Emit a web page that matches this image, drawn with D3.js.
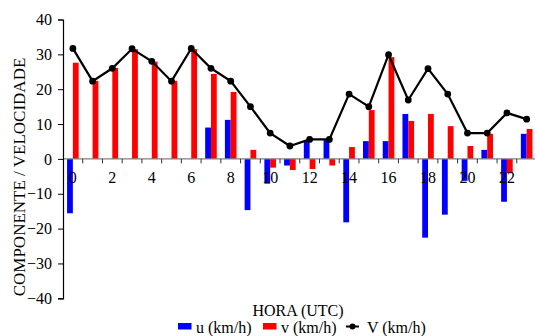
<!DOCTYPE html>
<html>
<head>
<meta charset="utf-8">
<script src="https://cdn.jsdelivr.net/npm/d3@7"></script>
<style>
  html, body { margin: 0; padding: 0; background: #fff; }
  svg { display: block; }
</style>
</head>
<body>
<svg id="chart" width="535" height="336"></svg>
<script>
// Hourly wind components and speed (km/h)
const hours = d3.range(0, 24);
const uValues = [-15.6, 0, 0, 0, 0, 0, 0, 9.0, 11.2, -14.7, -7.1, -1.9, 5.1, 5.4, -18.2, 5.1, 5.1, 12.9, -22.6, -16.0, -6.3, 2.6, -12.3, 7.2];
const vValues = [27.6, 22.4, 26.1, 31.5, 27.9, 22.4, 31.5, 24.4, 19.2, 2.6, -2.5, -3.2, -2.9, -1.9, 3.4, 14.0, 29.2, 10.9, 12.9, 9.4, 3.7, 7.2, -4.1, 8.6];
const speedValues = [31.7, 22.3, 26.0, 31.6, 28.0, 22.3, 31.7, 26.0, 22.3, 15.0, 7.4, 3.7, 5.6, 5.6, 18.6, 15.0, 29.9, 16.9, 25.9, 18.6, 7.4, 7.4, 13.2, 11.4];
const yTicks = [-40, -30, -20, -10, 0, 10, 20, 30, 40];
const xTickLabels = [0, 2, 4, 6, 8, 10, 12, 14, 16, 18, 20, 22];
const seriesNames = ["u (km/h)", "v (km/h)", "V (km/h)"];

const FONT = "Tinos, 'Liberation Serif', 'Times New Roman', Times, 'Noto Serif', 'DejaVu Serif', FreeSerif, serif";
const svg = d3.select("#chart").style("font-family", FONT);
const left = 63, plotTop = 19.5, plotBottom = 298.3;
const slot = 19.73;

const x = d3.scaleBand().domain(hours).range([left, left + slot * 24]).padding(0);
const sub = d3.scaleBand().domain(["u", "v"]).range([-5.8, 5.8]);
const y = d3.scaleLinear().domain([-40, 40]).range([plotBottom, plotTop]);
const cx = h => x(h) + x.bandwidth() / 2;

// bars
const barData = hours.flatMap(h => [
  { h, key: "u", val: uValues[h], color: "#0000FF" },
  { h, key: "v", val: vValues[h], color: "#FF0000" }
]);
svg.append("g").selectAll("rect").data(barData).join("rect")
  .attr("x", d => cx(d.h) + sub(d.key))
  .attr("width", sub.bandwidth())
  .attr("y", d => y(Math.max(0, d.val)))
  .attr("height", d => Math.abs(y(d.val) - y(0)))
  .attr("fill", d => d.color);

// zero line with category ticks
const xAxis = svg.append("g");
xAxis.append("line")
  .attr("x1", left).attr("x2", left + slot * 24)
  .attr("y1", y(0)).attr("y2", y(0))
  .attr("stroke", "#808080").attr("stroke-width", 1.3);
xAxis.selectAll("line.tk").data(d3.range(1, 25)).join("line")
  .attr("class", "tk")
  .attr("x1", k => left + slot * k).attr("x2", k => left + slot * k)
  .attr("y1", y(0)).attr("y2", y(0) + 4.5)
  .attr("stroke", "#333").attr("stroke-width", 1);
xAxis.selectAll("text").data(xTickLabels).join("text")
  .attr("x", h => cx(h)).attr("y", 182.5)
  .attr("text-anchor", "middle")
  .attr("font-size", 16)
  .text(d => d);

// vertical axis
const yAxis = d3.axisLeft(y).tickValues(yTicks).tickSize(5).tickPadding(6).tickFormat(d3.format("d"));
const yg = svg.append("g").attr("transform", `translate(${left},0)`).call(yAxis)
  .attr("font-family", FONT).attr("font-size", 16);
yg.select(".domain").attr("stroke", "#000").attr("stroke-width", 1.2);
yg.selectAll(".tick line").attr("stroke", "#000");
yg.selectAll(".tick text").attr("fill", "#000");

// speed line
const line = d3.line().x((d, i) => cx(hours[i])).y(d => y(d));
svg.append("path").datum(speedValues)
  .attr("d", line).attr("fill", "none")
  .attr("stroke", "#000").attr("stroke-width", 2.2);
svg.append("g").selectAll("circle").data(speedValues).join("circle")
  .attr("cx", (d, i) => cx(hours[i])).attr("cy", d => y(d))
  .attr("r", 3.4).attr("fill", "#000");

// titles
svg.append("text")
  .attr("transform", `translate(25,177) rotate(-90)`)
  .attr("text-anchor", "middle").attr("font-size", 17)
  .text("COMPONENTE / VELOCIDADE");
svg.append("text")
  .attr("x", 298).attr("y", 316).attr("text-anchor", "middle")
  .attr("font-size", 16).text("HORA (UTC)");

// legend
const lg = svg.append("g");
const ly = 333;
lg.append("rect").attr("x", 178).attr("y", 323).attr("width", 13.5).attr("height", 6.5).attr("fill", "#0000FF");
lg.append("text").attr("x", 196).attr("y", ly).attr("font-size", 16).text(seriesNames[0]);
lg.append("rect").attr("x", 263).attr("y", 323).attr("width", 13.5).attr("height", 6.5).attr("fill", "#FF0000");
lg.append("text").attr("x", 281).attr("y", ly).attr("font-size", 16).text(seriesNames[1]);
lg.append("line").attr("x1", 346).attr("x2", 359).attr("y1", 326.5).attr("y2", 326.5)
  .attr("stroke", "#000").attr("stroke-width", 2);
lg.append("circle").attr("cx", 352.5).attr("cy", 326.5).attr("r", 3).attr("fill", "#000");
lg.append("text").attr("x", 367).attr("y", ly).attr("font-size", 16).text(seriesNames[2]);
</script>
</body>
</html>
